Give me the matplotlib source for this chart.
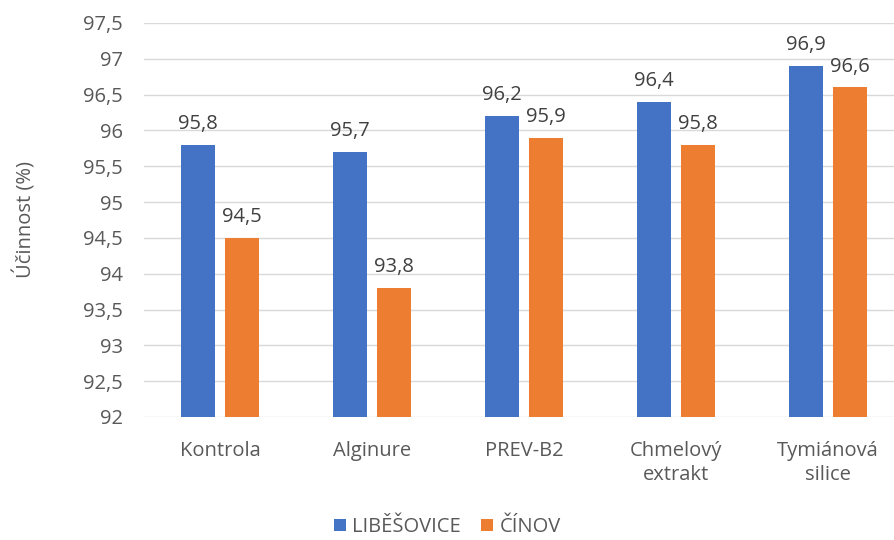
import numpy as np
import matplotlib.pyplot as plt
from matplotlib.ticker import FuncFormatter

plt.rcParams['font.family'] = ['Open Sans', 'DejaVu Sans']

categories = ['Kontrola', 'Alginure', 'PREV-B2', 'Chmelový\nextrakt', 'Tymiánová\nsilice']
libesovice = [95.8, 95.7, 96.2, 96.4, 96.9]
cinov = [94.5, 93.8, 95.9, 95.8, 96.6]

blue = '#4472c4'
orange = '#ed7d31'
grey = '#595959'
fs = 14.5

fig = plt.figure(figsize=(8.95, 5.4), dpi=100)
ax = fig.add_axes([144 / 895, 1 - 417 / 540, 760 / 895, 394 / 540])

x = np.arange(len(categories))
w = 0.224
off = 0.145
b1 = ax.bar(x - off, libesovice, w, color=blue, label='LIBĚŠOVICE', zorder=3)
b2 = ax.bar(x + off, cinov, w, color=orange, label='ČÍNOV', zorder=3)

def comma(v, pos=None):
    s = f'{v:g}'
    return s.replace('.', ',')

for bars, vals in ((b1, libesovice), (b2, cinov)):
    for b, v in zip(bars, vals):
        ax.text(b.get_x() + b.get_width() / 2, v + 0.15, comma(v),
                ha='center', va='bottom', fontsize=fs, color='#404040')

ax.set_ylim(92, 97.5)
ax.set_xlim(-0.5, len(categories) - 0.5)
ax.set_yticks(np.arange(92, 97.51, 0.5))
ax.yaxis.set_major_formatter(FuncFormatter(comma))
ax.set_xticks(x)
ax.set_xticklabels(categories, linespacing=1.3)
ax.tick_params(axis='both', length=0, labelsize=fs, colors=grey)
ax.tick_params(axis='y', pad=15)
ax.tick_params(axis='x', pad=17)
ax.grid(axis='y', color='#d9d9d9', linewidth=1, zorder=0)
for s in ax.spines.values():
    s.set_visible(False)

ax.set_ylabel('Účinnost (%)', fontsize=fs, color=grey)
ax.yaxis.set_label_coords(-107 / 760, 0.5)

fig.legend(loc='center', bbox_to_anchor=(0.5, 1 - 527 / 540), ncol=2, frameon=False,
           fontsize=fs, labelcolor=grey, handlelength=0.6, handleheight=0.6,
           handletextpad=0.3, columnspacing=1.0)

fig.savefig('out.png', dpi=100)
